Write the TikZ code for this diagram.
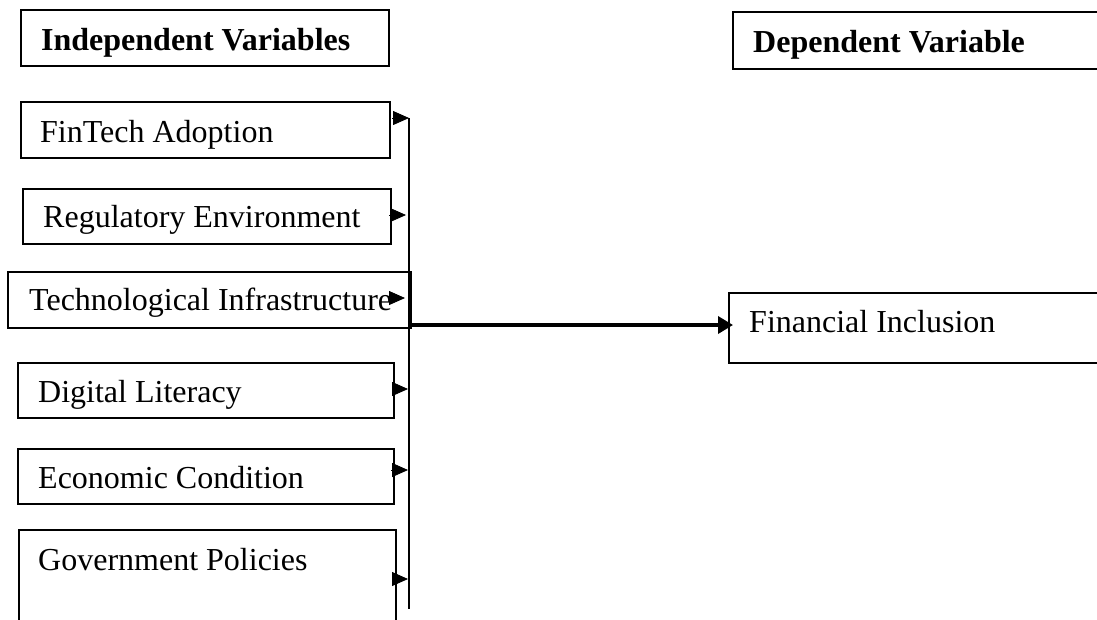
\documentclass[tikz,border=0pt]{standalone}
\usepackage{fontspec}
\setmainfont{Liberation Serif}
\usetikzlibrary{arrows.meta}
\tikzset{
  box/.style={draw=black, line width=1.6pt, rectangle, inner sep=0pt, anchor=north west},
  lbl/.style={anchor=base west, inner sep=0pt, font=\fontsize{32}{38}\selectfont},
  hlbl/.style={lbl, font=\fontsize{32}{38}\selectfont\bfseries},
  tip/.style={-{Triangle[length=16pt,width=14pt]}, line width=0.8pt},
  bar/.style={line width=1.3pt},
  main/.style={-{Triangle[length=15pt,width=17pt]}, line width=3.5pt}
}
\begin{document}
\begin{tikzpicture}[x=1pt,y=-1pt]
\useasboundingbox (0,0) rectangle (1097,619);
\begin{scope}
\clip (0,0) rectangle (1097,619);
% boxes
\node[box, minimum width=368pt, minimum height=56pt] (hiv) at (20,9) {};
\node[box, minimum width=369pt, minimum height=56pt] (b1) at (20,101) {};
\node[box, minimum width=368pt, minimum height=55pt] (b2) at (22,188) {};
\node[box, minimum width=403pt, minimum height=56pt] (b3) at (7,271) {};
\node[box, minimum width=376pt, minimum height=55pt] (b4) at (17,362) {};
\node[box, minimum width=376pt, minimum height=55pt] (b5) at (17,448) {};
\node[box, minimum width=377pt, minimum height=110pt] (b6) at (18,529) {};
\node[box, minimum width=380pt, minimum height=57pt] (hdv) at (732,11) {};
\node[box, minimum width=385pt, minimum height=70pt] (fi) at (728,292) {};
\end{scope}
% labels
\node[hlbl] (thiv) at (41,50) {Independent Variables};
\node[lbl] (t1) at (40,142) {FinTech Adoption};
\node[lbl] (t2) at (43,227) {Regulatory Environment};
\node[lbl] (t3) at (29,310) {Technological Infrastructure};
\node[lbl] (t4) at (38,402) {Digital Literacy};
\node[lbl] (t5) at (38,488) {Economic Condition};
\node[lbl] (t6) at (38,570) {Government Policies};
\node[hlbl] (thdv) at (753,52) {Dependent Variable};
\node[lbl] (tfi) at (749,332) {Financial Inclusion};
% vertical collector line
\coordinate (vtop) at (409,118);
\coordinate (vbot) at (409,609);
\draw[bar] (vtop) -- (vbot);
% small arrow tips
\coordinate (a1s) at (392,118); \coordinate (a1e) at (409,118);
\coordinate (a2s) at (389,215); \coordinate (a2e) at (406,215);
\coordinate (a3s) at (390,298); \coordinate (a3e) at (405,298);
\coordinate (a4s) at (392,389); \coordinate (a4e) at (408,389);
\coordinate (a5s) at (391,470); \coordinate (a5e) at (408,470);
\coordinate (a6s) at (392,579); \coordinate (a6e) at (408,579);
\draw[tip] (a1s) -- (a1e);
\draw[tip] (a2s) -- (a2e);
\draw[tip] (a3s) -- (a3e);
\draw[tip] (a4s) -- (a4e);
\draw[tip] (a5s) -- (a5e);
\draw[tip] (a6s) -- (a6e);
% main arrow
\coordinate (ms) at (412,325);
\draw[main] (ms) -- ([xshift=5pt]fi.west |- ms);
\end{tikzpicture}
\end{document}
